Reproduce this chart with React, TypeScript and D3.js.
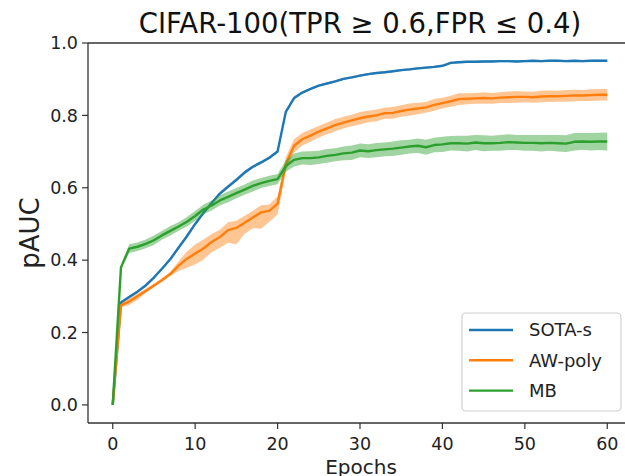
import React from 'react';
import * as d3 from 'd3';

const epochs = Array.from({ length: 61 }, (_, i) => i);

const sotaMean = [
  0.0, 0.283, 0.298, 0.313, 0.330, 0.352, 0.377, 0.403, 0.435, 0.466,
  0.500, 0.530, 0.558, 0.584, 0.603, 0.622, 0.642, 0.658, 0.670, 0.683,
  0.700, 0.810, 0.848, 0.863, 0.873, 0.882, 0.888, 0.894, 0.901, 0.905,
  0.910, 0.914, 0.917, 0.919, 0.922, 0.925, 0.927, 0.930, 0.932, 0.934,
  0.937, 0.945, 0.947, 0.948, 0.948, 0.949, 0.949, 0.950, 0.950, 0.949,
  0.950, 0.951, 0.950, 0.951, 0.951, 0.950, 0.951, 0.950, 0.951, 0.951,
  0.951,
];
const sotaSpread = [
  0.0, 0.004, 0.004, 0.004, 0.004, 0.004, 0.004, 0.004, 0.004, 0.004,
  0.004, 0.004, 0.004, 0.005, 0.005, 0.005, 0.005, 0.004, 0.004, 0.004,
  0.004, 0.004, 0.004, 0.003, 0.003, 0.003, 0.003, 0.003, 0.003, 0.003,
  0.003, 0.003, 0.003, 0.003, 0.003, 0.003, 0.003, 0.003, 0.003, 0.003,
  0.003, 0.003, 0.003, 0.003, 0.003, 0.003, 0.003, 0.003, 0.003, 0.003,
  0.003, 0.003, 0.003, 0.003, 0.003, 0.003, 0.003, 0.003, 0.003, 0.003,
  0.003,
];

const awMean = [
  0.0, 0.275, 0.286, 0.300, 0.315, 0.330, 0.345, 0.362, 0.385, 0.404,
  0.418, 0.432, 0.450, 0.464, 0.483, 0.489, 0.503, 0.518, 0.532, 0.536,
  0.556, 0.665, 0.716, 0.734, 0.744, 0.755, 0.764, 0.773, 0.780, 0.786,
  0.792, 0.797, 0.800, 0.806, 0.807, 0.812, 0.816, 0.819, 0.822, 0.829,
  0.834, 0.839, 0.845, 0.846, 0.847, 0.848, 0.847, 0.849, 0.850, 0.851,
  0.851, 0.850, 0.852, 0.853, 0.853, 0.854, 0.855, 0.855, 0.856, 0.857,
  0.857,
];
const awUpper = [
  0.0, 0.006, 0.008, 0.008, 0.006, 0.005, 0.005, 0.006, 0.012, 0.020,
  0.025, 0.025, 0.022, 0.020, 0.022, 0.020, 0.020, 0.018, 0.020, 0.018,
  0.020, 0.020, 0.018, 0.017, 0.017, 0.016, 0.016, 0.017, 0.016, 0.016,
  0.017, 0.016, 0.016, 0.015, 0.016, 0.016, 0.017, 0.016, 0.015, 0.016,
  0.015, 0.015, 0.016, 0.015, 0.015, 0.016, 0.015, 0.015, 0.016, 0.016,
  0.015, 0.015, 0.016, 0.016, 0.015, 0.016, 0.016, 0.015, 0.016, 0.016,
  0.016,
];
const awLower = [
  0.0, 0.006, 0.010, 0.010, 0.006, 0.005, 0.005, 0.006, 0.015, 0.025,
  0.030, 0.030, 0.028, 0.030, 0.035, 0.045, 0.030, 0.030, 0.045, 0.030,
  0.030, 0.020, 0.018, 0.017, 0.017, 0.016, 0.016, 0.017, 0.016, 0.016,
  0.017, 0.016, 0.016, 0.015, 0.016, 0.016, 0.017, 0.016, 0.015, 0.016,
  0.015, 0.015, 0.016, 0.015, 0.015, 0.016, 0.015, 0.015, 0.016, 0.016,
  0.015, 0.015, 0.016, 0.016, 0.015, 0.016, 0.016, 0.015, 0.016, 0.016,
  0.016,
];

const mbMean = [
  0.0, 0.380, 0.432, 0.437, 0.445, 0.455, 0.469, 0.481, 0.493, 0.506,
  0.522, 0.540, 0.551, 0.565, 0.575, 0.585, 0.595, 0.605, 0.613, 0.619,
  0.624, 0.660, 0.677, 0.682, 0.682, 0.684, 0.688, 0.691, 0.695, 0.697,
  0.703, 0.701, 0.704, 0.706, 0.708, 0.711, 0.714, 0.716, 0.712, 0.718,
  0.720, 0.723, 0.723, 0.722, 0.725, 0.723, 0.723, 0.724, 0.726, 0.725,
  0.724, 0.724, 0.723, 0.724, 0.723, 0.722, 0.727, 0.728, 0.727, 0.728,
  0.728,
];
const mbSpread = [
  0.0, 0.005, 0.012, 0.012, 0.012, 0.013, 0.012, 0.013, 0.012, 0.013,
  0.014, 0.013, 0.014, 0.014, 0.015, 0.014, 0.014, 0.015, 0.014, 0.014,
  0.014, 0.016, 0.018, 0.018, 0.019, 0.018, 0.019, 0.018, 0.019, 0.020,
  0.019, 0.019, 0.020, 0.019, 0.020, 0.020, 0.019, 0.020, 0.021, 0.020,
  0.021, 0.020, 0.021, 0.022, 0.021, 0.022, 0.021, 0.022, 0.022, 0.021,
  0.022, 0.022, 0.023, 0.022, 0.023, 0.023, 0.024, 0.023, 0.024, 0.024,
  0.025,
];

const seriesNames = ['SOTA-s', 'AW-poly', 'MB'];
const seriesColors = ['#1f77b4', '#ff7f0e', '#2ca02c'];
const xTicks = [0, 10, 20, 30, 40, 50, 60];
const yTicks = [0.0, 0.2, 0.4, 0.6, 0.8, 1.0];

const W = 625;
const H = 476;
const FONT = 'DejaVu Sans';

export default function App() {
  const left = 88, right = 632, top = 43, bottom = 423;
  const x = d3.scaleLinear().domain([-3, 63]).range([left, right]);
  const y = d3.scaleLinear().domain([-0.05, 1.0]).range([bottom, top]);

  const series = [
    { mean: sotaMean, up: sotaSpread, down: sotaSpread },
    { mean: awMean, up: awUpper, down: awLower },
    { mean: mbMean, up: mbSpread, down: mbSpread },
  ];

  const line = d3.line<number>().x((_, i) => x(epochs[i])).y((d) => y(d));

  return (
    <svg width={W} height={H} style={{ position: 'absolute', left: 0, top: 0, background: '#fff' }}>
      <rect x={0} y={0} width={W} height={H} fill="#fff" />
      <defs>
        <clipPath id="plotclip">
          <rect x={left} y={top} width={right - left} height={bottom - top} />
        </clipPath>
      </defs>
      <g clipPath="url(#plotclip)">
        {series.map((s, k) => {
          const area = d3
            .area<number>()
            .x((_, i) => x(epochs[i]))
            .y0((d, i) => y(d - s.down[i]))
            .y1((d, i) => y(d + s.up[i]));
          return (
            <g key={k}>
              <path d={line(s.mean) || ''} fill="none" stroke={seriesColors[k]} strokeWidth={2.4} strokeLinejoin="round" />
              <path d={area(s.mean) || ''} fill={seriesColors[k]} fillOpacity={0.45} stroke="none" />
            </g>
          );
        })}
      </g>
      {/* spines */}
      <line x1={left} x2={left} y1={top} y2={bottom} stroke="#333" strokeWidth={1.3} />
      <line x1={left} x2={right} y1={bottom} y2={bottom} stroke="#333" strokeWidth={1.3} />
      <line x1={left} x2={right} y1={top} y2={top} stroke="#333" strokeWidth={1.3} />
      <line x1={right} x2={right} y1={top} y2={bottom} stroke="#333" strokeWidth={1.3} />
      {/* x ticks */}
      {xTicks.map((t) => (
        <g key={'x' + t}>
          <line x1={x(t)} x2={x(t)} y1={bottom} y2={bottom + 6} stroke="#333" strokeWidth={1.2} />
          <text x={x(t)} y={bottom + 27} textAnchor="middle" fontFamily={FONT} fontSize={17.5} fill="#222">
            {String(t)}
          </text>
        </g>
      ))}
      {/* y ticks */}
      {yTicks.map((t) => (
        <g key={'y' + t}>
          <line x1={left - 6} x2={left} y1={y(t)} y2={y(t)} stroke="#333" strokeWidth={1.2} />
          <text x={left - 10} y={y(t) + 6.3} textAnchor="end" fontFamily={FONT} fontSize={17.5} fill="#222">
            {t.toFixed(1)}
          </text>
        </g>
      ))}
      {/* title */}
      <text x={360} y={33} textAnchor="middle" fontFamily={FONT} fontSize={27.5} fill="#111">
        CIFAR-100(TPR ≥ 0.6,FPR ≤ 0.4)
      </text>
      {/* axis labels */}
      <text x={361} y={474} textAnchor="middle" fontFamily={FONT} fontSize={20} fill="#222">
        Epochs
      </text>
      <text
        transform={`translate(39, ${(top + bottom) / 2}) rotate(-90)`}
        textAnchor="middle"
        fontFamily={FONT}
        fontSize={26}
        fill="#222"
      >
        pAUC
      </text>
      {/* legend */}
      <rect x={462} y={313} width={159} height={98} rx={4} ry={4} fill="#fff" fillOpacity={0.8} stroke="#d0d0d0" strokeWidth={1.2} />
      {seriesNames.map((n, k) => (
        <g key={n}>
          <line x1={469} x2={513} y1={330 + k * 30.3} y2={330 + k * 30.3} stroke={seriesColors[k]} strokeWidth={2.4} />
          <text x={529} y={330 + k * 30.3 + 6.3} fontFamily={FONT} fontSize={18} fill="#222">
            {n}
          </text>
        </g>
      ))}
    </svg>
  );
}
